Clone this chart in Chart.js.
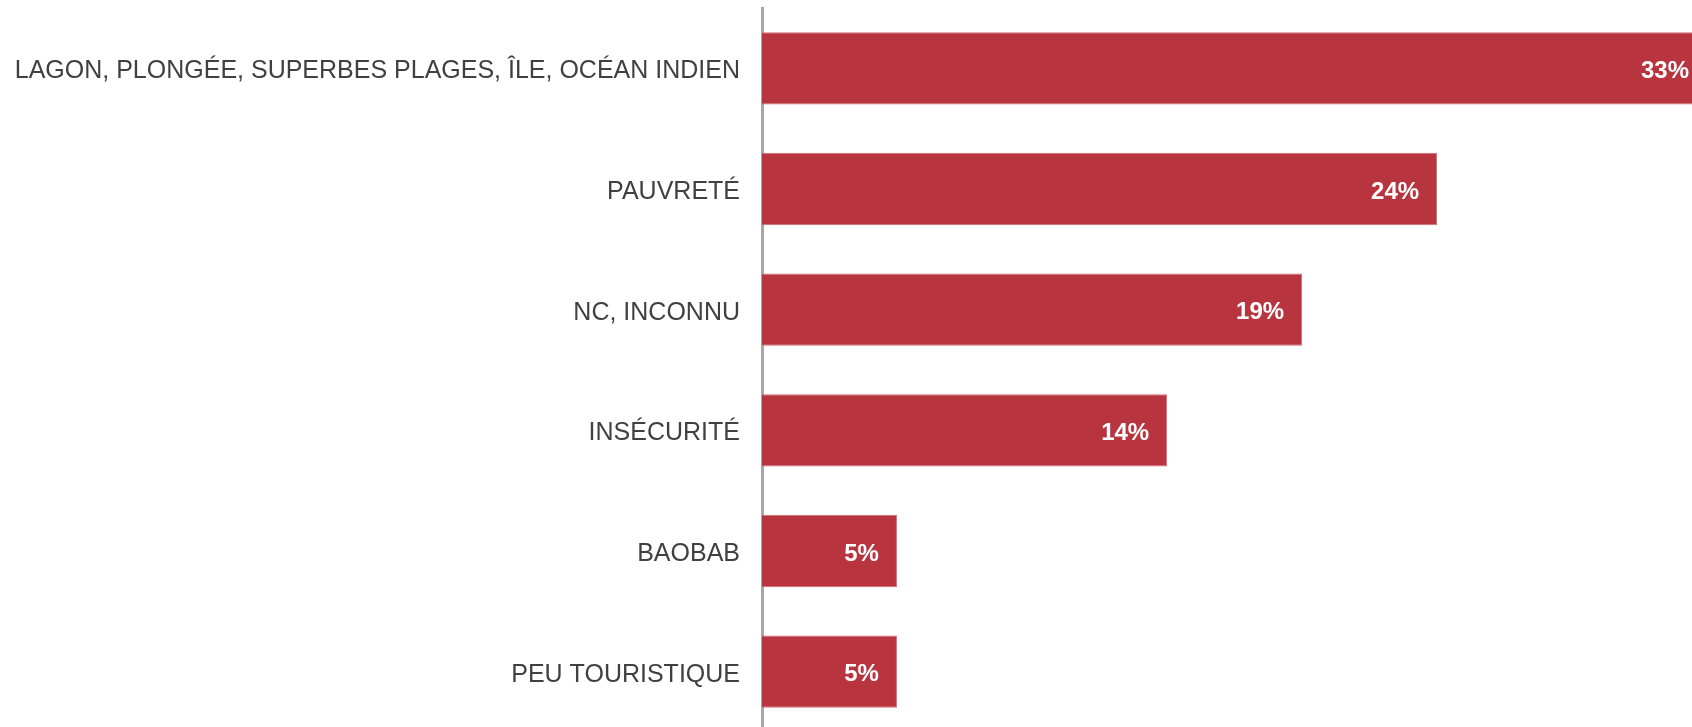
<!DOCTYPE html>
<html>
<head>
<meta charset="utf-8">
<script src="https://cdn.jsdelivr.net/npm/chart.js@4/dist/chart.umd.min.js"></script>
<style>
  html, body { margin: 0; padding: 0; background: #fff; overflow: hidden; }
  #wrap { position: relative; width: 1692px; height: 732px; }
</style>
</head>
<body>
<div id="wrap"><canvas id="chart"></canvas></div>
<script>
const categories = [
    'LAGON, PLONGÉE, SUPERBES PLAGES, ÎLE, OCÉAN INDIEN',
    'PAUVRETÉ',
    'NC, INCONNU',
    'INSÉCURITÉ',
    'BAOBAB',
    'PEU TOURISTIQUE'
];
const values = [33.33, 23.81, 19.05, 14.29, 4.76, 4.76];
const valueLabels = ['33%', '24%', '19%', '14%', '5%', '5%'];

// white percentage text inside the end of each bar
const barLabels = {
    id: 'barLabels',
    afterDatasetsDraw(chart) {
        const { ctx } = chart;
        const meta = chart.getDatasetMeta(0);
        ctx.save();
        ctx.font = 'bold 24px "Liberation Sans", Arial, sans-serif';
        ctx.fillStyle = '#ffffff';
        ctx.textAlign = 'right';
        ctx.textBaseline = 'middle';
        meta.data.forEach((bar, i) => {
            ctx.fillText(valueLabels[i], bar.x - 18, bar.y + 3);
        });
        ctx.restore();
    }
};

new Chart(document.querySelector('#chart'), {
    type: 'bar',
    data: {
        labels: categories,
        datasets: [{
            data: values,
            backgroundColor: '#b83540',
            borderColor: '#cf6d76',
            borderWidth: 1,
            barPercentage: 0.6,
            categoryPercentage: 1.0
        }]
    },
    options: {
        indexAxis: 'y',
        responsive: true,
        maintainAspectRatio: false,
        animation: false,
        layout: { padding: { top: 8, right: 0, bottom: 0, left: 0 } },
        plugins: {
            legend: { display: false },
            tooltip: { enabled: false }
        },
        scales: {
            x: {
                display: false,
                min: 0,
                max: 32.8
            },
            y: {
                grid: { display: false, drawTicks: false },
                border: { display: true, color: '#a6a6a6', width: 3 },
                afterFit: (scale) => {
                    scale.width = 762;
                    scale.paddingTop = 0;
                    scale.paddingBottom = 0;
                },
                ticks: {
                    padding: 22,
                    labelOffset: 3,
                    color: '#404040',
                    font: { family: '"Liberation Sans", Arial, sans-serif', size: 25 }
                }
            }
        }
    },
    plugins: [barLabels]
});
</script>
</body>
</html>
